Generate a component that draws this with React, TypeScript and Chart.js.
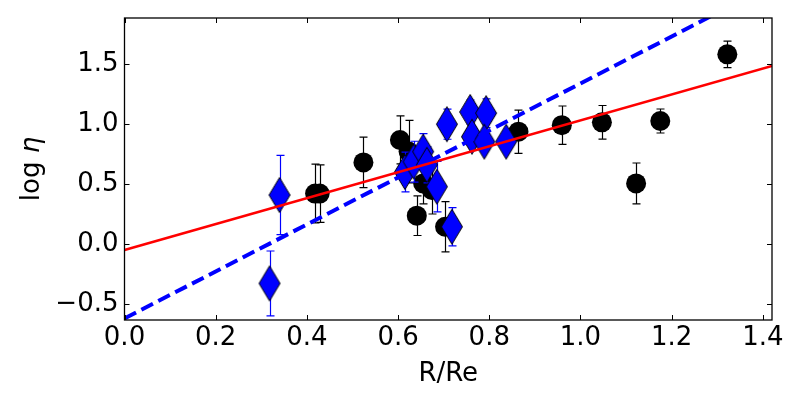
import { useEffect, useRef } from 'react';
import Chart from 'chart.js/auto';

// black circles: x = R/Re, y = log eta, symmetric error
const blackX = [0.418, 0.428, 0.524, 0.604, 0.623, 0.641, 0.655, 0.674, 0.703, 0.864, 0.959, 1.047, 1.122, 1.175, 1.322];
const blackY = [0.42, 0.42, 0.68, 0.867, 0.77, 0.236, 0.505, 0.45, 0.144, 0.936, 0.99, 1.014, 0.505, 1.025, 1.58];
const blackErr = [0.245, 0.24, 0.21, 0.2, 0.26, 0.165, 0.17, 0.2, 0.21, 0.18, 0.16, 0.14, 0.17, 0.1, 0.11];

// blue diamonds
const blueX = [0.318, 0.34, 0.615, 0.634, 0.655, 0.663, 0.685, 0.718, 0.707, 0.758, 0.793, 0.762, 0.789, 0.837];
const blueY = [-0.328, 0.408, 0.6, 0.686, 0.77, 0.66, 0.478, 0.144, 0.998, 1.1, 1.09, 0.894, 0.853, 0.853];
const blueErr = [0.27, 0.33, 0.165, 0.17, 0.15, 0.15, 0.21, 0.16, 0.125, 0.1, 0.12, 0.08, 0.08, 0.08];

// fit lines (end points)
const fitX = [0, 1.42];
const redFitY = [-0.05, 1.484];
const blueFitY = [-0.62, 2.16];

const xTickValues = [0, 0.2, 0.4, 0.6, 0.8, 1.0, 1.2, 1.4];
const yTickValues = [-0.5, 0, 0.5, 1.0, 1.5];

const FAMILY = "'DejaVu Sans', sans-serif";
const font = { family: FAMILY, size: 26 };

function makeDiamond() {
  const c = document.createElement('canvas');
  c.width = 24;
  c.height = 38;
  const g = c.getContext('2d')!;
  g.beginPath();
  g.moveTo(12, 1.5);
  g.lineTo(22.5, 19);
  g.lineTo(12, 36.5);
  g.lineTo(1.5, 19);
  g.closePath();
  g.fillStyle = '#0000ff';
  g.fill();
  g.strokeStyle = '#000';
  g.lineWidth = 1;
  g.stroke();
  return c;
}

const errorBars = {
  id: 'errorBars',
  beforeDatasetDraw(chart: any, args: any) {
    const ds = chart.data.datasets[args.index];
    if (!ds.errors) return;
    const { x, y } = chart.scales;
    const ctx = chart.ctx;
    const a = chart.chartArea;
    ctx.save();
    ctx.beginPath();
    ctx.rect(a.left, a.top, a.right - a.left, a.bottom - a.top);
    ctx.clip();
    ctx.strokeStyle = ds.errorColor;
    ctx.lineWidth = 1.2;
    ds.data.forEach((p: any, i: number) => {
      const px = Math.round(x.getPixelForValue(p.x)) + 0.5;
      const top = y.getPixelForValue(p.y + ds.errors[i]);
      const bot = y.getPixelForValue(p.y - ds.errors[i]);
      ctx.beginPath();
      ctx.moveTo(px, top);
      ctx.lineTo(px, bot);
      ctx.moveTo(px - 4, top);
      ctx.lineTo(px + 4, top);
      ctx.moveTo(px - 4, bot);
      ctx.lineTo(px + 4, bot);
      ctx.stroke();
    });
    ctx.restore();
  },
};

const frame = {
  id: 'frame',
  afterDraw(chart: any) {
    const { x, y } = chart.scales;
    const ctx = chart.ctx;
    const a = chart.chartArea;
    ctx.save();
    ctx.strokeStyle = '#000';
    ctx.lineWidth = 1;
    ctx.beginPath();
    xTickValues.forEach((v) => {
      const px = Math.round(x.getPixelForValue(v)) + 0.5;
      ctx.moveTo(px, a.bottom);
      ctx.lineTo(px, a.bottom - 5);
      ctx.moveTo(px, a.top);
      ctx.lineTo(px, a.top + 5);
    });
    yTickValues.forEach((v) => {
      const py = Math.round(y.getPixelForValue(v)) + 0.5;
      ctx.moveTo(a.left, py);
      ctx.lineTo(a.left + 5, py);
      ctx.moveTo(a.right, py);
      ctx.lineTo(a.right - 5, py);
    });
    ctx.stroke();
    ctx.lineWidth = 1.3;
    ctx.strokeRect(a.left, a.top, a.right - a.left, a.bottom - a.top);

    // y axis title: "log" upright, eta italic (mathtext look)
    const cy = (a.top + a.bottom) / 2;
    ctx.translate(39, cy);
    ctx.rotate(-Math.PI / 2);
    ctx.fillStyle = '#000';
    ctx.textBaseline = 'alphabetic';
    ctx.textAlign = 'left';
    const upright = `26px ${FAMILY}`;
    const italic = `italic 26px ${FAMILY}`;
    ctx.font = upright;
    const w1 = ctx.measureText('log ').width;
    ctx.font = italic;
    const w2 = ctx.measureText('\u03b7').width;
    const start = -(w1 + w2) / 2;
    ctx.font = upright;
    ctx.fillText('log ', start, 0);
    ctx.font = italic;
    ctx.fillText('\u03b7', start + w1, 0);
    ctx.restore();
  },
};

const fmt = (v: number) => (v < 0 ? '\u2212' : '') + Math.abs(v).toFixed(1);

export default function App() {
  const ref = useRef<HTMLCanvasElement | null>(null);

  useEffect(() => {
    if (!ref.current) return;
    const diamond = makeDiamond();
    const chart = new Chart(ref.current, {
      type: 'scatter',
      data: {
        datasets: [
          {
            data: fitX.map((x, i) => ({ x, y: blueFitY[i] })),
            showLine: true,
            borderColor: '#0000ff',
            borderWidth: 4,
            borderDash: [13, 6],
            pointRadius: 0,
            order: 2,
          },
          {
            data: fitX.map((x, i) => ({ x, y: redFitY[i] })),
            showLine: true,
            borderColor: '#ff0000',
            borderWidth: 2.6,
            pointRadius: 0,
            order: 1,
          },
          {
            data: blueX.map((x, i) => ({ x, y: blueY[i] })),
            errors: blueErr,
            errorColor: '#0000ff',
            pointStyle: diamond,
            pointRadius: 12,
            order: 3,
          } as any,
          {
            data: blackX.map((x, i) => ({ x, y: blackY[i] })),
            errors: blackErr,
            errorColor: '#000000',
            pointStyle: 'circle',
            pointRadius: 10,
            backgroundColor: '#000',
            borderColor: '#000',
            borderWidth: 0,
            order: 4,
          } as any,
        ],
      },
      options: {
        animation: false,
        responsive: true,
        maintainAspectRatio: false,
        layout: { padding: { top: 18, right: 28, left: 0, bottom: 0 } },
        plugins: { legend: { display: false }, tooltip: { enabled: false } },
        scales: {
          x: {
            type: 'linear',
            min: 0,
            max: 1.42,
            grid: { display: false, drawTicks: false },
            border: { display: false },
            afterBuildTicks: (s: any) => {
              s.ticks = xTickValues.map((value) => ({ value }));
            },
            afterFit: (s: any) => {
              s.height = 80;
              s.paddingLeft = 0;
              s.paddingRight = 0;
            },
            ticks: { color: '#000', font, padding: 3, maxRotation: 0, callback: (v: any) => fmt(Number(v)) },
            title: { display: true, text: 'R/Re', color: '#000', font, padding: { top: 0, bottom: 10 } },
          },
          y: {
            type: 'linear',
            min: -0.633,
            max: 1.883,
            grid: { display: false, drawTicks: false },
            border: { display: false },
            afterBuildTicks: (s: any) => {
              s.ticks = yTickValues.map((value) => ({ value }));
            },
            afterFit: (s: any) => {
              s.width = 124.5;
              s.paddingTop = 0;
              s.paddingBottom = 0;
            },
            ticks: { color: '#000', font, padding: 6, callback: (v: any) => fmt(Number(v)) },
            title: { display: false },
          },
        },
      },
      plugins: [errorBars, frame],
    });
    return () => chart.destroy();
  }, []);

  return (
    <div style={{ position: 'fixed', left: 0, top: 0, width: 800, height: 400, background: '#fff' }}>
      <canvas ref={ref} aria-label="log eta versus R/Re" />
    </div>
  );
}
